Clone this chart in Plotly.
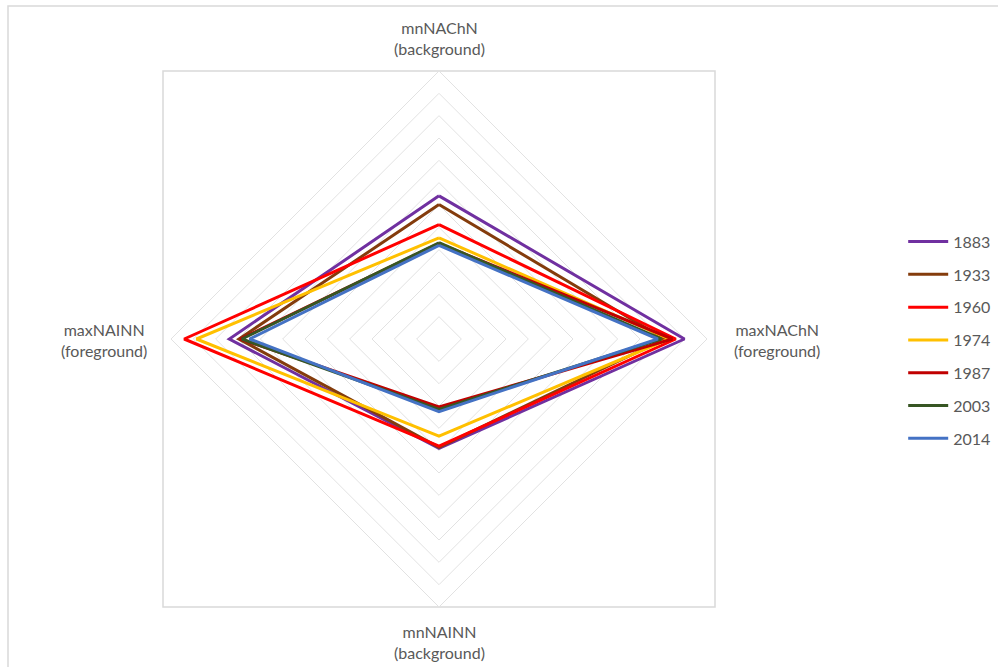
import plotly.graph_objects as go

# Axis categories (clockwise from top)
categories = ["mnNAChN", "maxNAChN", "mnNAINN", "maxNAINN"]
axis_labels = [
    "mnNAChN<br>(background)",
    "maxNAChN<br>(foreground)",
    "mnNAINN<br>(background)",
    "maxNAINN<br>(foreground)",
]

years = ["1883", "1933", "1960", "1974", "1987", "2003", "2014"]

# Values per year in order: top, right, bottom, left (grid units, 0-12)
v1883 = [6.41, 10.99, 4.90, 9.39]
v1933 = [6.02, 10.10, 4.85, 8.96]
v1960 = [5.12, 10.60, 4.80, 11.41]
v1974 = [4.53, 10.30, 4.35, 10.86]
v1987 = [4.28, 10.45, 3.04, 8.90]
v2003 = [4.31, 9.95, 3.15, 8.83]
v2014 = [4.19, 9.80, 3.25, 8.48]

series = [v1883, v1933, v1960, v1974, v1987, v2003, v2014]
colors = ["#7030A0", "#843C0C", "#FF0000", "#FFC000", "#C00000", "#375623", "#4472C4"]

fig = go.Figure()
for i, (yr, vals, col) in enumerate(zip(years, series, colors)):
    fig.add_trace(go.Scatterpolar(
        r=vals + vals[:1],
        theta=categories + categories[:1],
        mode="lines",
        name=yr,
        line=dict(color=col, width=3),
        legendgroup=yr,
    ))

W, H = 998, 667
cx, cy, R = 439, 339, 268

# label anchor positions in pixels (top, right, bottom, left)
label_pos = [(439, 38), (777, 340), (439, 642), (104, 340)]
annotations = [
    dict(text=t, x=px / W, y=1 - py / H, xref="paper", yref="paper",
         xanchor="center", yanchor="middle", showarrow=False, align="center",
         font=dict(size=16, color="#595959"))
    for t, (px, py) in zip(axis_labels, label_pos)
]

fig.update_layout(
    width=W, height=H,
    margin=dict(l=0, r=0, t=0, b=0),
    paper_bgcolor="white",
    plot_bgcolor="white",
    font=dict(family="Lato, Carlito, Calibri, sans-serif", color="#595959", size=16),
    polar=dict(
        domain=dict(x=[(cx - R) / W, (cx + R) / W], y=[1 - (cy + R) / H, 1 - (cy - R) / H]),
        bgcolor="white",
        gridshape="linear",
        radialaxis=dict(range=[0, 12], dtick=1, showticklabels=False, ticks="",
                        showline=False, gridcolor="#e2e2e2", gridwidth=1),
        angularaxis=dict(direction="clockwise", rotation=90, showgrid=False,
                         showline=True, linecolor="#e2e2e2", linewidth=1, ticks="",
                         showticklabels=False),
    ),
    annotations=annotations,
    legend=dict(x=0.905, xanchor="left", y=0.49, yanchor="middle",
                tracegroupgap=9, font=dict(size=16, color="#595959"),
                itemwidth=40, bgcolor="rgba(0,0,0,0)"),
    showlegend=True,
    shapes=[
        dict(type="rect", xref="paper", yref="paper",
             x0=(cx - R - 8) / W, x1=(cx + R + 8) / W,
             y0=1 - (cy + R) / H, y1=1 - (cy - R) / H,
             line=dict(color="#d9d9d9", width=1.5), layer="below"),
        dict(type="rect", xref="paper", yref="paper",
             x0=8 / W, x1=1.02, y0=-0.02, y1=1 - 6 / H,
             line=dict(color="#d9d9d9", width=1.5), layer="below"),
    ],
)

fig.write_html("out.html", config={"displayModeBar": False},
               post_script="document.body.style.margin='0';")
